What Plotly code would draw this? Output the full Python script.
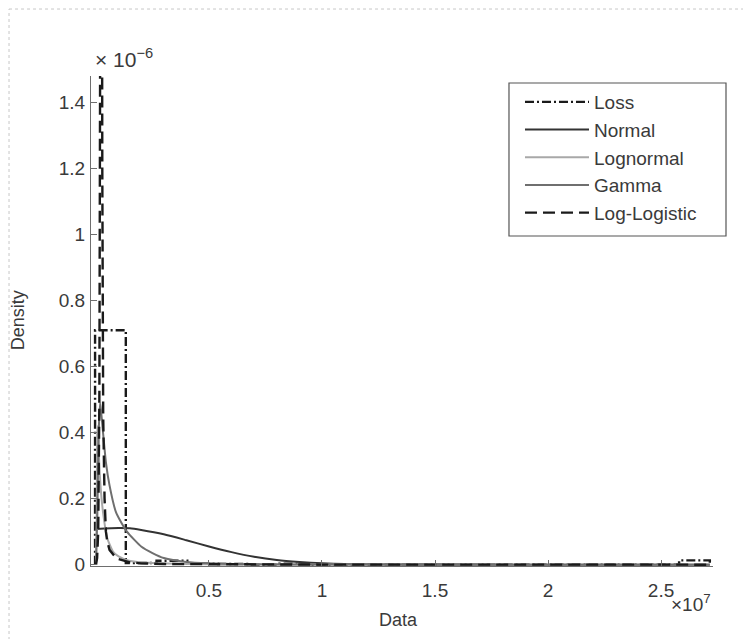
import plotly.graph_objects as go

# ---------------- data (x in units of 1e7, density in units of 1e-6) ----------------
loss_bin_edges = [-0.004, 0.132, 0.268, 0.404, 0.540, 0.676, 0.812, 0.948, 1.084, 1.220,
                  1.356, 1.492, 1.628, 1.764, 1.900, 2.036, 2.172, 2.308, 2.444, 2.580, 2.716]
loss_density = [0.71, 0.005, 0.012, 0.003, 0.002, 0.0, 0.003, 0.0, 0.0, 0.0,
                 0.0, 0.0, 0.0, 0.0, 0.0, 0.0, 0.0, 0.0, 0.0, 0.013]

normal_x = [0.0, 0.1, 0.15, 0.2, 0.3, 0.4, 0.5, 0.6, 0.7, 0.8, 0.9, 1.0, 1.1, 1.3, 1.6, 2.0, 2.716]
normal_y = [0.108, 0.111, 0.110, 0.105, 0.092, 0.074, 0.055, 0.038, 0.024, 0.014, 0.008, 0.004,
            0.002, 0.0005, 0.0, 0.0, 0.0]

lognormal_x = [0.0, 0.003, 0.006, 0.009, 0.013, 0.02, 0.031, 0.05, 0.075, 0.1, 0.146, 0.25,
               0.5, 1.0, 2.716]
lognormal_y = [0.0, 0.12, 0.40, 0.42, 0.33, 0.24, 0.16, 0.08, 0.04, 0.025, 0.012, 0.005,
               0.0015, 0.0003, 0.0]

gamma_x = [0.0, 0.006, 0.012, 0.018, 0.022, 0.03, 0.044, 0.06, 0.088, 0.11, 0.137, 0.17, 0.2,
           0.25, 0.3, 0.4, 0.5, 0.7, 1.0, 2.716]
gamma_y = [0.0, 0.15, 0.40, 0.49, 0.47, 0.41, 0.31, 0.24, 0.16, 0.13, 0.10, 0.075, 0.055,
           0.035, 0.02, 0.008, 0.004, 0.001, 0.0002, 0.0]

loglogistic_x = [0.0, 0.005, 0.01, 0.015, 0.02, 0.024, 0.028, 0.032, 0.038, 0.044, 0.05, 0.06,
                 0.08, 0.1, 0.15, 0.2, 0.3, 0.5, 1.0, 2.716]
loglogistic_y = [0.0, 0.02, 0.1, 0.5, 2.0, 3.0, 1.2, 0.45, 0.2, 0.1, 0.07, 0.045, 0.028,
                 0.017, 0.007, 0.004, 0.002, 0.001, 0.0003, 0.0]

series_names = ["Loss", "Normal", "Lognormal", "Gamma", "Log-Logistic"]

x_tick_vals = [0.5, 1.0, 1.5, 2.0, 2.5]
x_tick_text = ["0.5", "1", "1.5", "2", "2.5"]
y_tick_vals = [0, 0.2, 0.4, 0.6, 0.8, 1.0, 1.2, 1.4]
y_tick_text = ["0", "0.2", "0.4", "0.6", "0.8", "1", "1.2", "1.4"]

# ---------------- figure ----------------
FONT = "Liberation Sans, Arial, sans-serif"
TXT = "#3a3a3a"
AX = "#6e6e6e"

# histogram outline (stairs) built from bin edges and densities
loss_x = [loss_bin_edges[0]] + loss_bin_edges
loss_y = [0.0] + loss_density + [0.0]

fig = go.Figure()
fig.add_trace(go.Scatter(x=loss_x, y=loss_y, mode="lines", name=series_names[0],
                         line=dict(color="#1a1a1a", width=2.4, dash="9px,3px,2px,3px", shape="hv")))
fig.add_trace(go.Scatter(x=normal_x, y=normal_y, mode="lines", name=series_names[1],
                         line=dict(color="#333333", width=2, shape="spline", smoothing=0.6)))
fig.add_trace(go.Scatter(x=lognormal_x, y=lognormal_y, mode="lines", name=series_names[2],
                         line=dict(color="#a8a8a8", width=2, shape="spline", smoothing=0.5)))
fig.add_trace(go.Scatter(x=gamma_x, y=gamma_y, mode="lines", name=series_names[3],
                         line=dict(color="#6f6f6f", width=2, shape="spline", smoothing=0.5)))
fig.add_trace(go.Scatter(x=loglogistic_x, y=loglogistic_y, mode="lines", name=series_names[4],
                         line=dict(color="#1a1a1a", width=2.4, dash="12px,6px")))

# page has an 8px body margin: figure is 743x631 so it fits in the 751x639 window
fig.update_layout(
    width=743, height=631,
    margin=dict(l=83, r=38, t=68, b=73),
    paper_bgcolor="white", plot_bgcolor="white",
    font=dict(family=FONT, size=19, color=TXT),
    showlegend=True,
    legend=dict(x=0.6897, y=0.9857, xanchor="left", yanchor="top",
                bgcolor="rgba(0,0,0,0)", borderwidth=0, itemwidth=64,
                font=dict(family=FONT, size=19, color=TXT)),
    xaxis=dict(range=[-0.022, 2.73], showgrid=False, zeroline=False,
               showline=True, linecolor=AX, linewidth=1.2, mirror=False,
               ticks="inside", ticklen=6, tickcolor=AX, tickwidth=1.2,
               tickvals=x_tick_vals, ticktext=x_tick_text, ticklabelstandoff=7,
               tickfont=dict(family=FONT, size=19, color=TXT)),
    yaxis=dict(range=[-0.004, 1.48], showgrid=False, zeroline=False,
               showline=True, linecolor=AX, linewidth=1.2, mirror=False,
               ticks="inside", ticklen=6, tickcolor=AX, tickwidth=1.2,
               tickvals=y_tick_vals, ticktext=y_tick_text, ticklabelstandoff=1,
               tickfont=dict(family=FONT, size=19, color=TXT)),
    shapes=[
        # legend frame
        dict(type="rect", xref="paper", yref="paper", x0=0.672, x1=1.0209, y0=0.6735, y1=0.9857,
             line=dict(color="#555555", width=1.2), fillcolor="rgba(0,0,0,0)"),
        # dotted page border (top and left)
        dict(type="line", xref="paper", yref="paper", x0=-0.1318, x1=1.07, y0=1.1367, y1=1.1367,
             line=dict(color="#c8c8c8", width=1, dash="dot")),
        dict(type="line", xref="paper", yref="paper", x0=-0.1318, x1=-0.1318, y0=-0.2, y1=1.1367,
             line=dict(color="#c8c8c8", width=1, dash="dot")),
    ],
    annotations=[
        dict(text="Data", xref="paper", yref="paper", x=0.494, y=-0.11, xanchor="center",
             yanchor="middle", showarrow=False, font=dict(family=FONT, size=18, color=TXT)),
        dict(text="Density", xref="paper", yref="paper", x=-0.117, y=0.502, xanchor="center",
             yanchor="middle", textangle=-90, showarrow=False,
             font=dict(family=FONT, size=18, color=TXT)),
        dict(text="×10<sup>7</sup>", xref="paper", yref="paper", x=1.0, y=-0.076,
             xanchor="right", yanchor="middle", showarrow=False,
             font=dict(family=FONT, size=19, color=TXT)),
        dict(text="× 10<sup>−6</sup>", xref="paper", yref="paper", x=0.004, y=1.037,
             xanchor="left", yanchor="middle", showarrow=False,
             font=dict(family=FONT, size=21, color=TXT)),
    ],
)

fig.write_html("out.html")
